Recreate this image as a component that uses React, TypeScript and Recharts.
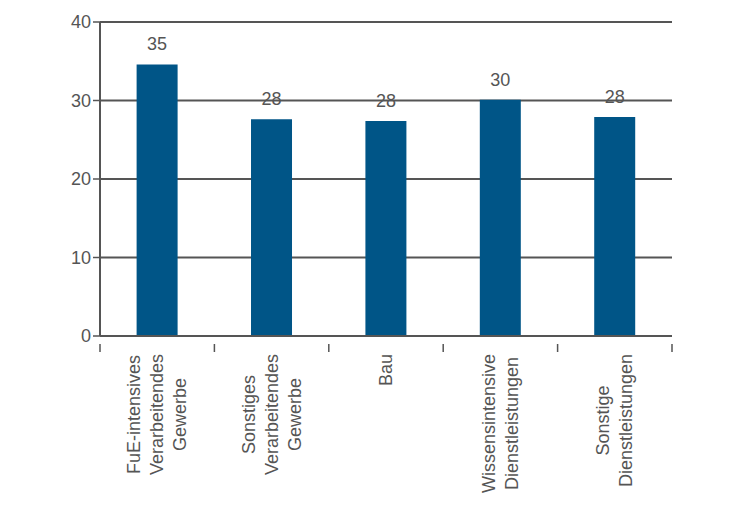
import React from "react";
import { BarChart, Bar, XAxis, YAxis, CartesianGrid, LabelList } from "recharts";

const categories = [
  ["FuE-intensives", "Verarbeitendes", "Gewerbe"],
  ["Sonstiges", "Verarbeitendes", "Gewerbe"],
  ["Bau"],
  ["Wissensintensive", "Dienstleistungen"],
  ["Sonstige", "Dienstleistungen"],
];
const values = [34.6, 27.6, 27.4, 30.1, 27.9];
const labels = ["35", "28", "28", "30", "28"];
const yTicks = [0, 10, 20, 30, 40];

const data = categories.map((c, i) => ({ name: String(i), v: values[i], lab: labels[i] }));

const W = 721, H = 518;
const YW = 40, XH = 30;
const M = { top: 14, right: 57, bottom: 190 - XH, left: 92 - YW };
const band = (W - 92 - M.right) / categories.length;
const FONT = "18px 'Liberation Sans', Arial, sans-serif";

let ctx: CanvasRenderingContext2D | null = null;
function measure(s: string) {
  if (!ctx) ctx = document.createElement("canvas").getContext("2d");
  if (!ctx) return s.length * 9;
  ctx.font = FONT;
  return ctx.measureText(s).width;
}

const XTick = (props: any) => {
  const { x, y, payload, index } = props;
  const lines = categories[Number(payload.value)];
  const maxW = Math.max(...lines.map(measure));
  const top = y + 10;
  const cy = top + maxW / 2;
  const lh = 23;
  const n = lines.length;
  return (
    <g>
      <line x1={x - band / 2} x2={x - band / 2} y1={y} y2={y + 8} stroke="#555" strokeWidth={1.5} />
      {index === categories.length - 1 && (
        <line x1={x + band / 2} x2={x + band / 2} y1={y} y2={y + 8} stroke="#555" strokeWidth={1.5} />
      )}
      {lines.map((l, i) => {
        const lx = x + (i - (n - 1) / 2) * lh + 6;
        return (
          <text key={i} x={lx} y={cy} transform={`rotate(-90 ${lx} ${cy})`} textAnchor="middle"
            fill="#555" style={{ font: FONT }}>
            {l}
          </text>
        );
      })}
    </g>
  );
};

export default function App() {
  return (
    <BarChart width={W} height={H} data={data} margin={M} barCategoryGap="32%">
      <CartesianGrid vertical={false} stroke="#555" strokeWidth={2} />
      <XAxis dataKey="name" height={XH} tickLine={false} axisLine={{ stroke: "#555", strokeWidth: 2 }}
        tick={<XTick />} interval={0} />
      <YAxis width={YW} domain={[0, 40]} ticks={yTicks} tickSize={7} axisLine={{ stroke: "#555", strokeWidth: 2 }}
        tickLine={{ stroke: "#555", strokeWidth: 1.5 }}
        tick={{ fill: "#555", fontSize: 18, fontFamily: "'Liberation Sans', Arial" }} />
      <Bar dataKey="v" fill="#005587" isAnimationActive={false}>
        <LabelList dataKey="lab" position="top" offset={14}
          style={{ fill: "#555", fontSize: 18, fontFamily: "'Liberation Sans', Arial" }} />
      </Bar>
    </BarChart>
  );
}
